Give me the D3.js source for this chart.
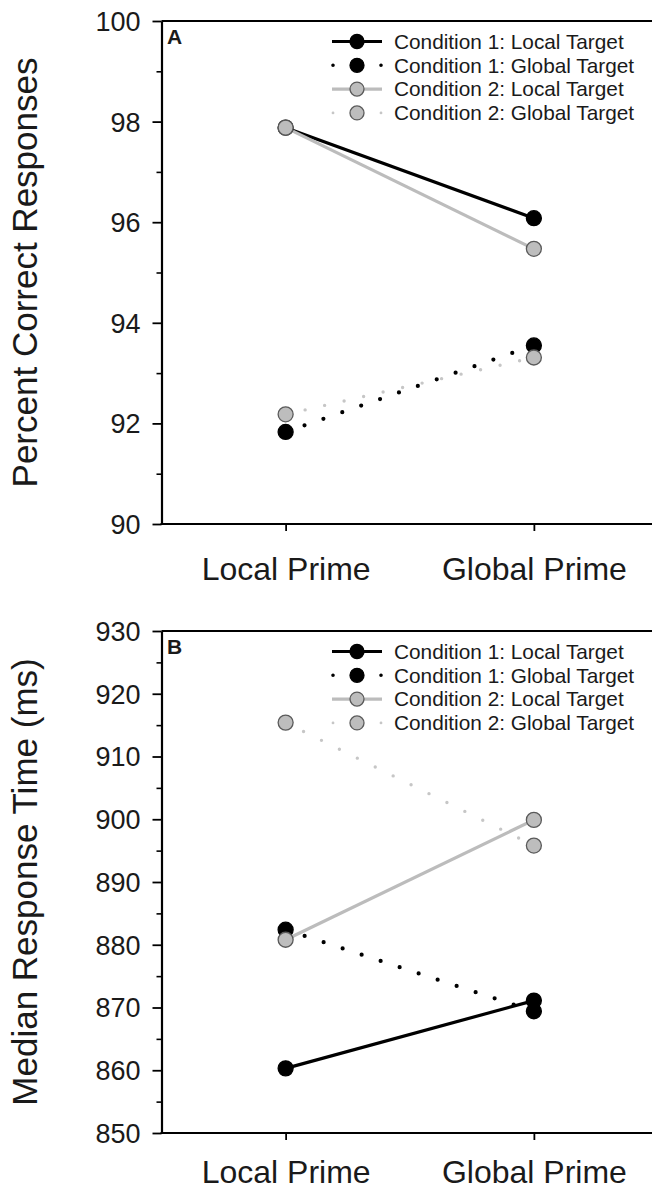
<!DOCTYPE html>
<html>
<head>
<meta charset="utf-8">
<script src="https://cdn.jsdelivr.net/npm/d3@7"></script>
<style>
  html, body { margin: 0; padding: 0; background: #fff; }
  svg { display: block; }
  text { font-family: "Liberation Sans", Arial, Helvetica, sans-serif; fill: #1a1a1a; }
</style>
</head>
<body>
<svg id="chart" width="652" height="1190"></svg>
<script>
// ---------- data ----------
const categories = ["Local Prime", "Global Prime"];
const seriesNames = [
  "Condition 1: Local Target",
  "Condition 1: Global Target",
  "Condition 2: Local Target",
  "Condition 2: Global Target"
];
// Panel A: percent correct responses
const accC1Local  = [97.88, 96.08];
const accC1Global = [91.83, 93.55];
const accC2Local  = [97.88, 95.47];
const accC2Global = [92.18, 93.31];
const accTicks      = [90, 92, 94, 96, 98, 100];
const accMinorTicks = [91, 93, 95, 97, 99];
// Panel B: median response time (ms)
const rtC1Local  = [860.3, 871.1];
const rtC1Global = [882.4, 869.4];
const rtC2Local  = [880.8, 899.9];
const rtC2Global = [915.4, 895.8];
const rtTicks      = [850, 860, 870, 880, 890, 900, 910, 920, 930];
const rtMinorTicks = [855, 865, 875, 885, 895, 905, 915, 925];

// ---------- styles ----------
const styles = [
  { stroke: "#000", width: 3.2, dash: null, fill: "#000", circStroke: "#000" },
  { stroke: "#000", width: 4.2, dash: "0 20", fill: "#000", circStroke: "#000" },
  { stroke: "#bcbcbc", width: 3.2, dash: null, fill: "#bdbdbd", circStroke: "#5a5a5a" },
  { stroke: "#c6c6c6", width: 3.4, dash: "0 20", fill: "#bdbdbd", circStroke: "#5a5a5a" }
];

const svg = d3.select("#chart");
const W = 652;
const axisX = 161.5;

const x = d3.scalePoint().domain(categories).range([axisX, 658]).padding(0.5);

function panel(cfg) {
  const g = svg.append("g");
  const y = d3.scaleLinear().domain(cfg.domain).range([cfg.bottom, cfg.top]);

  // top frame line (extends to right edge)
  g.append("line").attr("x1", axisX).attr("x2", W).attr("y1", cfg.top).attr("y2", cfg.top)
    .attr("stroke", "#000").attr("stroke-width", 2);

  // minor ticks
  const minor = g.append("g").attr("transform", `translate(${axisX},0)`)
    .call(d3.axisLeft(y).tickValues(cfg.minor).tickSize(5).tickFormat(""));
  minor.select(".domain").remove();
  minor.selectAll("line").attr("stroke", "#000").attr("stroke-width", 1.6);

  // major y axis
  const ya = g.append("g").attr("transform", `translate(${axisX},0)`)
    .call(d3.axisLeft(y).tickValues(cfg.ticks).tickSize(9).tickPadding(12).tickSizeOuter(0));
  ya.select(".domain").attr("stroke", "#000").attr("stroke-width", 2.2);
  ya.selectAll(".tick line").attr("stroke", "#000").attr("stroke-width", 1.8);
  ya.selectAll(".tick text").attr("font-size", 27).attr("fill", "#1a1a1a")
    .attr("font-family", "'Liberation Sans', Arial, sans-serif").attr("dy", "0.35em");

  // x axis
  const xa = g.append("g").attr("transform", `translate(0,${cfg.bottom})`)
    .call(d3.axisBottom(x).tickSize(7).tickSizeOuter(0));
  xa.select(".domain").remove();
  g.append("line").attr("x1", axisX - 1).attr("x2", W).attr("y1", cfg.bottom).attr("y2", cfg.bottom)
    .attr("stroke", "#000").attr("stroke-width", 2);
  xa.selectAll(".tick line").attr("stroke", "#000").attr("stroke-width", 1.8);
  xa.selectAll(".tick text").attr("font-size", 32).attr("fill", "#1a1a1a")
    .attr("font-family", "'Liberation Sans', Arial, sans-serif")
    .attr("y", cfg.labelOffset).attr("dy", 0);

  // y-axis title
  g.append("text")
    .attr("transform", `translate(37,${(cfg.top + cfg.bottom) / 2}) rotate(-90)`)
    .attr("text-anchor", "middle")
    .attr("font-size", 35)
    .text(cfg.title);

  // panel letter
  g.append("text").attr("x", 167).attr("y", cfg.top + 23)
    .attr("font-size", 21).attr("font-weight", "bold").text(cfg.letter);

  // lines
  const line = d3.line().x((d, i) => x(categories[i])).y(d => y(d));
  cfg.series.forEach((s, k) => {
    const st = styles[k];
    g.append("path").datum(s)
      .attr("d", line)
      .attr("fill", "none")
      .attr("stroke", st.stroke)
      .attr("stroke-width", st.width)
      .attr("stroke-linecap", st.dash ? "round" : "butt")
      .attr("stroke-dasharray", st.dash);
  });
  // markers
  cfg.series.forEach((s, k) => {
    const st = styles[k];
    g.selectAll(null).data(s).enter().append("circle")
      .attr("cx", (d, i) => x(categories[i]))
      .attr("cy", d => y(d))
      .attr("r", 7.5)
      .attr("fill", st.fill)
      .attr("stroke", st.circStroke)
      .attr("stroke-width", 1.3);
  });

  // legend
  const lg = g.append("g").attr("transform", `translate(0,${cfg.top})`);
  seriesNames.forEach((name, k) => {
    const st = styles[k];
    const ly = 20.5 + k * 23.8;
    if (st.dash) {
      lg.append("path").attr("d", `M333,${ly}L381.5,${ly}`)
        .attr("fill", "none").attr("stroke", st.stroke).attr("stroke-width", st.width - 0.6)
        .attr("stroke-linecap", "round").attr("stroke-dasharray", "0.01 23.99");
    } else {
      lg.append("line").attr("x1", 332).attr("x2", 382).attr("y1", ly).attr("y2", ly)
        .attr("stroke", st.stroke).attr("stroke-width", st.width);
    }
    lg.append("circle").attr("cx", 357).attr("cy", ly).attr("r", 7)
      .attr("fill", st.fill).attr("stroke", st.circStroke).attr("stroke-width", 1.3);
    lg.append("text").attr("x", 394).attr("y", ly + 7.3)
      .attr("font-size", 20.8).text(name);
  });
}

panel({
  domain: [90, 100], top: 21, bottom: 524, labelOffset: 56,
  ticks: accTicks, minor: accMinorTicks,
  title: "Percent Correct Responses", letter: "A",
  series: [accC1Local, accC1Global, accC2Local, accC2Global]
});
panel({
  domain: [850, 930], top: 631, bottom: 1133, labelOffset: 50,
  ticks: rtTicks, minor: rtMinorTicks,
  title: "Median Response Time (ms)", letter: "B",
  series: [rtC1Local, rtC1Global, rtC2Local, rtC2Global]
});
</script>
</body>
</html>
